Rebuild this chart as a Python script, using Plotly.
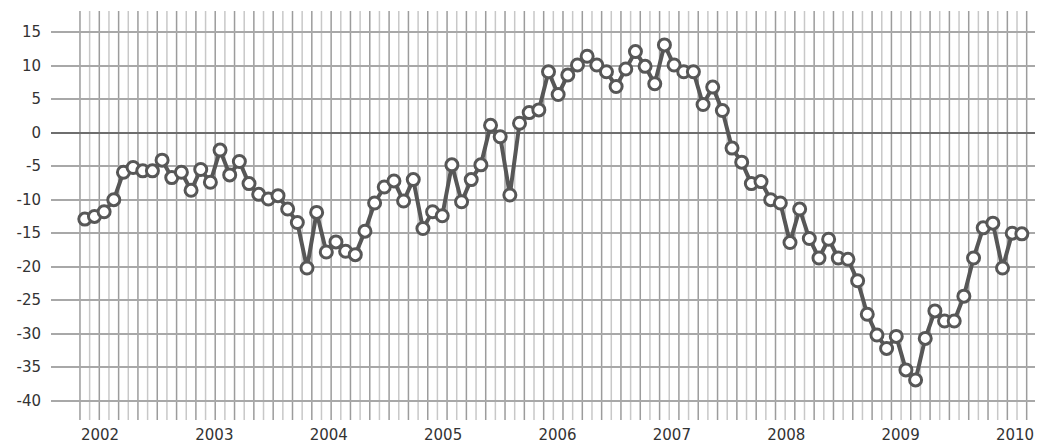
import plotly.graph_objects as go
import pandas as pd

# Monthly values, Nov 2001 .. Dec 2009
values = [
    -12.9, -12.5, -11.8, -10.0, -5.9, -5.2, -5.7, -5.7, -4.1, -6.7,
    -5.9, -8.6, -5.5, -7.4, -2.6, -6.3, -4.3, -7.6, -9.2, -9.9,
    -9.4, -11.4, -13.4, -20.2, -11.9, -17.8, -16.3, -17.7, -18.2, -14.7,
    -10.5, -8.1, -7.2, -10.2, -7.0, -14.3, -11.8, -12.4, -4.8, -10.3,
    -7.0, -4.8, 1.1, -0.6, -9.3, 1.4, 3.0, 3.4, 9.1, 5.7,
    8.6, 10.1, 11.4, 10.1, 9.1, 6.9, 9.5, 12.1, 9.9, 7.3,
    13.1, 10.1, 9.1, 9.1, 4.2, 6.8, 3.3, -2.3, -4.4, -7.6,
    -7.3, -10.0, -10.5, -16.4, -11.4, -15.8, -18.7, -15.9, -18.7, -18.9,
    -22.1, -27.1, -30.2, -32.2, -30.4, -35.4, -36.9, -30.7, -26.6, -28.1,
    -28.1, -24.4, -18.7, -14.2, -13.5, -20.2, -15.0, -15.1,
]
months = pd.date_range("2001-11-01", periods=len(values), freq="MS").strftime("%Y-%m").tolist()
years = ["2002", "2003", "2004", "2005", "2006", "2007", "2008", "2009", "2010"]
y_ticks = [15, 10, 5, 0, -5, -10, -15, -20, -25, -30, -35, -40]

x_idx = list(range(len(values)))
year_pos = [1.57 + 11.84 * k for k in range(len(years))]

DARK = "#575757"

fig = go.Figure()
fig.add_trace(go.Scatter(
    x=x_idx, y=values, mode="lines+markers",
    customdata=months,
    line=dict(color=DARK, width=4),
    marker=dict(size=12, color="white", line=dict(color=DARK, width=3)),
    hovertemplate="%{customdata}: %{y}<extra></extra>",
))

# vertical month grid lines (cell boundaries), alternating shades
shapes = []
for j in range(len(values) + 1):
    shapes.append(dict(
        type="line", xref="x", yref="paper",
        x0=j - 0.5, x1=j - 0.5, y0=0, y1=1,
        line=dict(color="#9c9c9c" if j % 2 == 0 else "#c8c8c8", width=1.5),
        layer="below",
    ))

# page body has an 8px margin; figure sized so the plot lands where the reference has it
fig.update_layout(
    width=1035, height=435,
    margin=dict(l=43, r=0, t=3, b=23),
    paper_bgcolor="white", plot_bgcolor="white",
    showlegend=False,
    shapes=shapes,
    font=dict(family="DejaVu Sans", size=15, color="#333333"),
    xaxis=dict(
        range=[-3.5, 99.19],
        showgrid=False, zeroline=False, showline=False,
        tickmode="array", tickvals=year_pos, ticktext=years,
        ticks="", ticklabelstandoff=4,
        tickfont=dict(size=15),
    ),
    yaxis=dict(
        range=[-42.88, 18.16],
        tickmode="array", tickvals=y_ticks,
        ticktext=[str(v) for v in y_ticks],
        showgrid=True, gridcolor="#a8a8a8", gridwidth=1.5,
        zeroline=True, zerolinecolor="#6e6e6e", zerolinewidth=2,
        showline=False, ticks="", ticklabelstandoff=9,
        tickfont=dict(size=15),
    ),
)

fig.write_html("out.html")
